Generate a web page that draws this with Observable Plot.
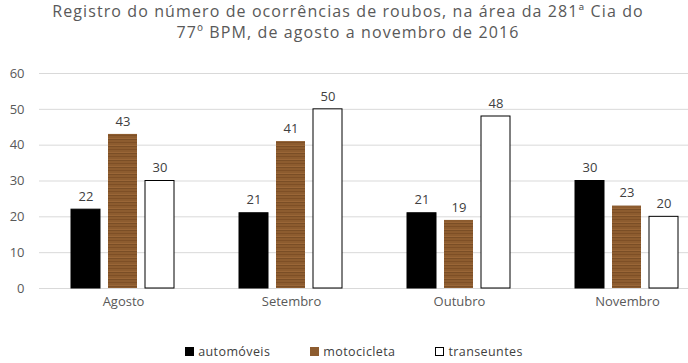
<!DOCTYPE html>
<html><head><meta charset="utf-8">
<script src="https://cdn.jsdelivr.net/npm/d3@7"></script>
<script src="https://cdn.jsdelivr.net/npm/@observablehq/plot@0.6"></script>
<style>
body{margin:0;background:#fff;font-family:"Open Sans",sans-serif;}
#wrap{position:relative;width:688px;height:363px;overflow:hidden;background:#fff}
#title{position:absolute;top:1px;left:4px;width:688px;text-align:center;color:#595959;font-size:16px;line-height:21px;letter-spacing:1.1px;font-family:"Open Sans",sans-serif}
#legend{position:absolute;top:343px;left:10px;width:688px;display:flex;justify-content:center;gap:40px;color:#404040;font-size:12.5px;letter-spacing:0.4px;font-family:"Open Sans",sans-serif}
#legend span.sw{display:inline-block;width:9px;height:9px;margin-right:4px;box-sizing:border-box;vertical-align:0px}
#chart{position:absolute;top:0;left:0}
</style></head>
<body>
<div id="wrap">
<div id="chart"></div>
<div id="title">Registro do número de ocorrências de roubos, na área da 281ª Cia do<br>77º BPM, de agosto a novembro de 2016</div>
<div id="legend"></div>
</div>
<script>
const months = ["Agosto", "Setembro", "Outubro", "Novembro"];
const series = ["automóveis", "motocicleta", "transeuntes"];
const automoveis = [22, 21, 21, 30];
const motocicleta = [43, 41, 19, 23];
const transeuntes = [30, 50, 48, 20];
const yTicks = [0, 10, 20, 30, 40, 50, 60];

const values = {"automóveis": automoveis, "motocicleta": motocicleta, "transeuntes": transeuntes};
const rows = [];
months.forEach((m, i) => series.forEach(s => rows.push({month: m, series: s, value: values[s][i]})));

const fills = {"automóveis": "#000000", "motocicleta": "url(#wood)", "transeuntes": "#ffffff"};
const strokes = {"automóveis": "#000000", "motocicleta": "none", "transeuntes": "#000000"};

const chart = Plot.plot({
  width: 688, height: 363,
  marginTop: 73, marginBottom: 75, marginLeft: 38, marginRight: 0,
  style: {fontSize: "13px", color: "#595959", fontFamily: "'Open Sans', sans-serif", background: "transparent"},
  fx: {domain: months, range: [38, 712], paddingInner: 0, paddingOuter: 0, label: null, tickSize: 0, tickPadding: 8},
  x: {domain: series, axis: null, paddingInner: 0.213, paddingOuter: 0.857},
  y: {domain: [0, 60], ticks: yTicks, tickSize: 0, tickPadding: 15, label: null},
  marks: [
    Plot.ruleY(yTicks, {stroke: "#d9d9d9", strokeWidth: 1}),
    Plot.barY(rows, {fx: "month", x: "series", y: "value",
      fill: d => fills[d.series], stroke: d => strokes[d.series], strokeWidth: 1, inset: 0}),
    Plot.text(rows, {fx: "month", x: "series", y: "value", text: d => String(d.value), dy: -13, fill: "#404040", fontSize: 13})
  ]
});

// wood-like pattern for motocicleta bars
const ns = "http://www.w3.org/2000/svg";
const defs = document.createElementNS(ns, "defs");
defs.innerHTML = `<pattern id="wood" patternUnits="userSpaceOnUse" width="30" height="7">
  <rect width="30" height="7" fill="#8d5c2f"/>
  <rect y="2" width="30" height="1" fill="#7a4c24" opacity="0.8"/>
  <rect y="5" width="30" height="1" fill="#a06b3a" opacity="0.7"/>
  <rect y="6" width="30" height="1" fill="#6e4420" opacity="0.6"/>
</pattern>`;
chart.insertBefore(defs, chart.firstChild);
document.getElementById("chart").appendChild(chart);

const legend = document.getElementById("legend");
const swatchStyle = {
  "automóveis": "background:#000;",
  "motocicleta": "background:#8d5c2f;",
  "transeuntes": "background:#fff;border:1px solid #000;"
};
series.forEach(s => {
  const item = document.createElement("div");
  item.innerHTML = `<span class="sw" style="${swatchStyle[s]}"></span>${s}`;
  legend.appendChild(item);
});
</script>
</body></html>
